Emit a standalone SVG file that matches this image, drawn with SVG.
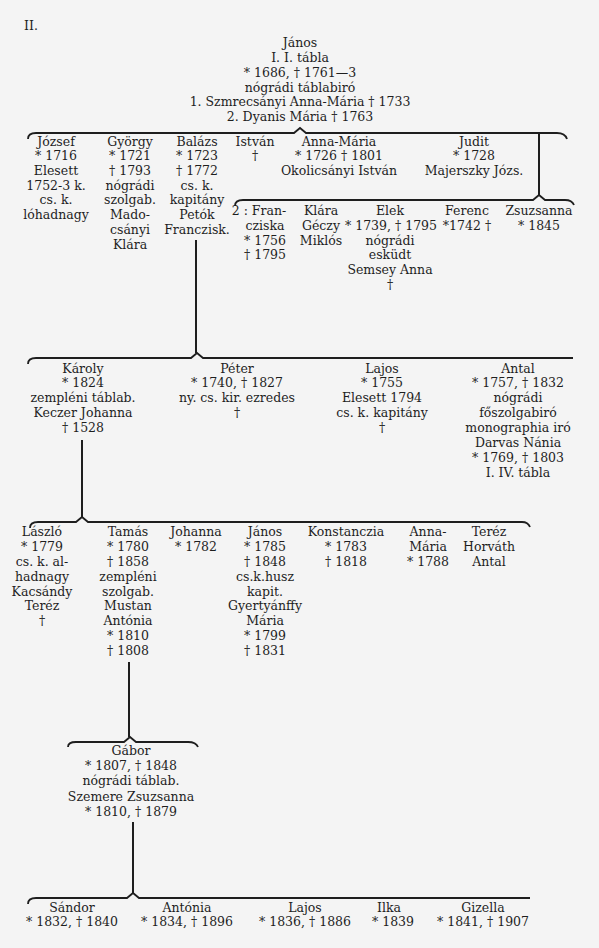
<svg xmlns="http://www.w3.org/2000/svg" width="599" height="948" viewBox="0 0 599 948">
<style>
text{font-family:"DejaVu Serif","Liberation Serif",serif;font-size:12.5px;fill:#1e1e1e;text-anchor:middle}
.brace{fill:none;stroke:#1e1e1e;stroke-width:1.8}
.vline{stroke:#1e1e1e;stroke-width:2}
</style>
<rect width="599" height="948" fill="#f4f4f4"/>
<text x="31" y="30">II.</text>

<g id="connectors">
<path class="brace" d="M28,139 Q28,133 36,133 L294,133 L300,128 L306,133 L557,133 Q565,133 567,139"/>
<line class="vline" x1="539" y1="133" x2="539" y2="196"/>
<path class="brace" d="M235,206 Q235,200 243,200 L533,200 L539,195 L545,200 L565,200 Q572,200 574,205"/>
<line class="vline" x1="196" y1="240" x2="196" y2="353"/>
<path class="brace" d="M28,364 Q28,358 36,358 L191,358 L197,353 L203,358 L573,358"/>
<line class="vline" x1="82" y1="440" x2="82" y2="517"/>
<path class="brace" d="M30,528 Q30,522 38,522 L76,522 L82,517 L88,522 L522,522 Q528,522 530,527"/>
<line class="vline" x1="129" y1="662" x2="129" y2="737"/>
<path class="brace" d="M68,747 Q68,742 76,742 L124,742 L130,737 L136,742 L188,742 Q196,742 198,747"/>
<line class="vline" x1="133" y1="822" x2="133" y2="893"/>
<path class="brace" d="M28,904 Q28,898 36,898 L127,898 L133,893 L139,898 L530,898"/>
</g>

<g id="janos-root"><text x="300"><tspan x="300" y="47">János</tspan><tspan x="300" y="62">I. I.  tábla</tspan><tspan x="300" y="77">* 1686,  † 1761—3</tspan><tspan x="300" y="92">nógrádi  táblabiró</tspan><tspan x="300" y="106">1. Szmrecsányi  Anna-Mária  † 1733</tspan><tspan x="300" y="121">2. Dyanis  Mária  † 1763</tspan></text></g>

<g id="jozsef"><text><tspan x="56" y="146">József</tspan><tspan x="56" y="160">* 1716</tspan><tspan x="56" y="175">Elesett</tspan><tspan x="56" y="190">1752-3 k.</tspan><tspan x="56" y="204">cs. k.</tspan><tspan x="56" y="219">lóhadnagy</tspan></text></g>
<g id="gyorgy"><text><tspan x="130" y="146">György</tspan><tspan x="130" y="160">* 1721</tspan><tspan x="130" y="175">† 1793</tspan><tspan x="130" y="190">nógrádi</tspan><tspan x="130" y="204">szolgab.</tspan><tspan x="130" y="219">Mado-</tspan><tspan x="130" y="234">csányi</tspan><tspan x="130" y="249">Klára</tspan></text></g>
<g id="balazs"><text><tspan x="197" y="146">Balázs</tspan><tspan x="197" y="160">* 1723</tspan><tspan x="197" y="175">† 1772</tspan><tspan x="197" y="190">cs. k.</tspan><tspan x="197" y="204">kapitány</tspan><tspan x="197" y="219">Petók</tspan><tspan x="197" y="234">Franczisk.</tspan></text></g>
<g id="istvan"><text><tspan x="255" y="146">István</tspan><tspan x="255" y="160">†</tspan></text></g>
<g id="anna-maria-1"><text><tspan x="339" y="146">Anna-Mária</tspan><tspan x="339" y="160">* 1726  † 1801</tspan><tspan x="339" y="175">Okolicsányi  István</tspan></text></g>
<g id="judit"><text><tspan x="474" y="146">Judit</tspan><tspan x="474" y="160">* 1728</tspan><tspan x="474" y="175">Majerszky  Józs.</tspan></text></g>

<g id="franciska"><text><tspan x="259" y="215">2 : Fran-</tspan><tspan x="265" y="230">cziska</tspan><tspan x="265" y="245">* 1756</tspan><tspan x="265" y="259">† 1795</tspan></text></g>
<g id="klara"><text><tspan x="321" y="215">Klára</tspan><tspan x="321" y="230">Géczy</tspan><tspan x="321" y="245">Miklós</tspan></text></g>
<g id="elek"><text><tspan x="390" y="215">Elek</tspan><tspan x="391" y="230">* 1739, † 1795</tspan><tspan x="390" y="245">nógrádi</tspan><tspan x="390" y="259">esküdt</tspan><tspan x="390" y="274">Semsey  Anna</tspan><tspan x="390" y="289">†</tspan></text></g>
<g id="ferenc"><text><tspan x="467" y="215">Ferenc</tspan><tspan x="467" y="230">*1742 †</tspan></text></g>
<g id="zsuzsanna"><text><tspan x="539" y="215">Zsuzsanna</tspan><tspan x="539" y="230">* 1845</tspan></text></g>

<g id="karoly"><text><tspan x="83" y="373">Károly</tspan><tspan x="83" y="387">* 1824</tspan><tspan x="83" y="402">zempléni  táblab.</tspan><tspan x="83" y="417">Keczer Johanna</tspan><tspan x="83" y="432">† 1528</tspan></text></g>
<g id="peter"><text><tspan x="237" y="373">Péter</tspan><tspan x="237" y="387">* 1740,  † 1827</tspan><tspan x="237" y="402">ny.  cs.  kir.  ezredes</tspan><tspan x="237" y="417">†</tspan></text></g>
<g id="lajos-1"><text><tspan x="382" y="373">Lajos</tspan><tspan x="382" y="387">* 1755</tspan><tspan x="382" y="402">Elesett  1794</tspan><tspan x="382" y="417">cs.  k.  kapitány</tspan><tspan x="382" y="432">†</tspan></text></g>
<g id="antal"><text><tspan x="518" y="373">Antal</tspan><tspan x="518" y="387">* 1757,  † 1832</tspan><tspan x="518" y="402">nógrádi</tspan><tspan x="518" y="417">főszolgabiró</tspan><tspan x="518" y="432">monographia  iró</tspan><tspan x="518" y="447">Darvas  Nánia</tspan><tspan x="518" y="462">* 1769,  † 1803</tspan><tspan x="518" y="477">I. IV.  tábla</tspan></text></g>

<g id="laszlo"><text><tspan x="42" y="536">László</tspan><tspan x="42" y="551">* 1779</tspan><tspan x="42" y="566">cs. k. al-</tspan><tspan x="42" y="581">hadnagy</tspan><tspan x="42" y="596">Kacsándy</tspan><tspan x="42" y="610">Teréz</tspan><tspan x="42" y="625">†</tspan></text></g>
<g id="tamas"><text><tspan x="128" y="536">Tamás</tspan><tspan x="128" y="551">* 1780</tspan><tspan x="128" y="566">† 1858</tspan><tspan x="128" y="581">zempléni</tspan><tspan x="128" y="596">szolgab.</tspan><tspan x="128" y="610">Mustan</tspan><tspan x="128" y="625">Antónia</tspan><tspan x="128" y="640">* 1810</tspan><tspan x="128" y="655">† 1808</tspan></text></g>
<g id="johanna"><text><tspan x="196" y="536">Johanna</tspan><tspan x="196" y="551">* 1782</tspan></text></g>
<g id="janos-2"><text><tspan x="265" y="536">János</tspan><tspan x="265" y="551">* 1785</tspan><tspan x="265" y="566">† 1848</tspan><tspan x="265" y="581">cs.k.husz</tspan><tspan x="265" y="596">kapit.</tspan><tspan x="265" y="610">Gyertyánffy</tspan><tspan x="265" y="625">Mária</tspan><tspan x="265" y="640">* 1799</tspan><tspan x="265" y="655">† 1831</tspan></text></g>
<g id="konstanczia"><text><tspan x="346" y="536">Konstanczia</tspan><tspan x="346" y="551">* 1783</tspan><tspan x="346" y="566">† 1818</tspan></text></g>
<g id="anna-maria-2"><text><tspan x="428" y="536">Anna-</tspan><tspan x="428" y="551">Mária</tspan><tspan x="428" y="566">* 1788</tspan></text></g>
<g id="terez"><text><tspan x="489" y="536">Teréz</tspan><tspan x="489" y="551">Horváth</tspan><tspan x="489" y="566">Antal</tspan></text></g>

<g id="gabor"><text><tspan x="131" y="755">Gábor</tspan><tspan x="131" y="770">* 1807,  † 1848</tspan><tspan x="131" y="785">nógrádi  táblab.</tspan><tspan x="131" y="801">Szemere  Zsuzsanna</tspan><tspan x="131" y="816">* 1810,  † 1879</tspan></text></g>

<g id="sandor"><text><tspan x="72" y="912">Sándor</tspan><tspan x="72" y="926">* 1832, † 1840</tspan></text></g>
<g id="antonia"><text><tspan x="187" y="912">Antónia</tspan><tspan x="187" y="926">* 1834, † 1896</tspan></text></g>
<g id="lajos-2"><text><tspan x="305" y="912">Lajos</tspan><tspan x="305" y="926">* 1836, † 1886</tspan></text></g>
<g id="ilka"><text><tspan x="389" y="912">Ilka</tspan><tspan x="393" y="926">* 1839</tspan></text></g>
<g id="gizella"><text><tspan x="483" y="912">Gizella</tspan><tspan x="483" y="926">* 1841, † 1907</tspan></text></g>
</svg>
